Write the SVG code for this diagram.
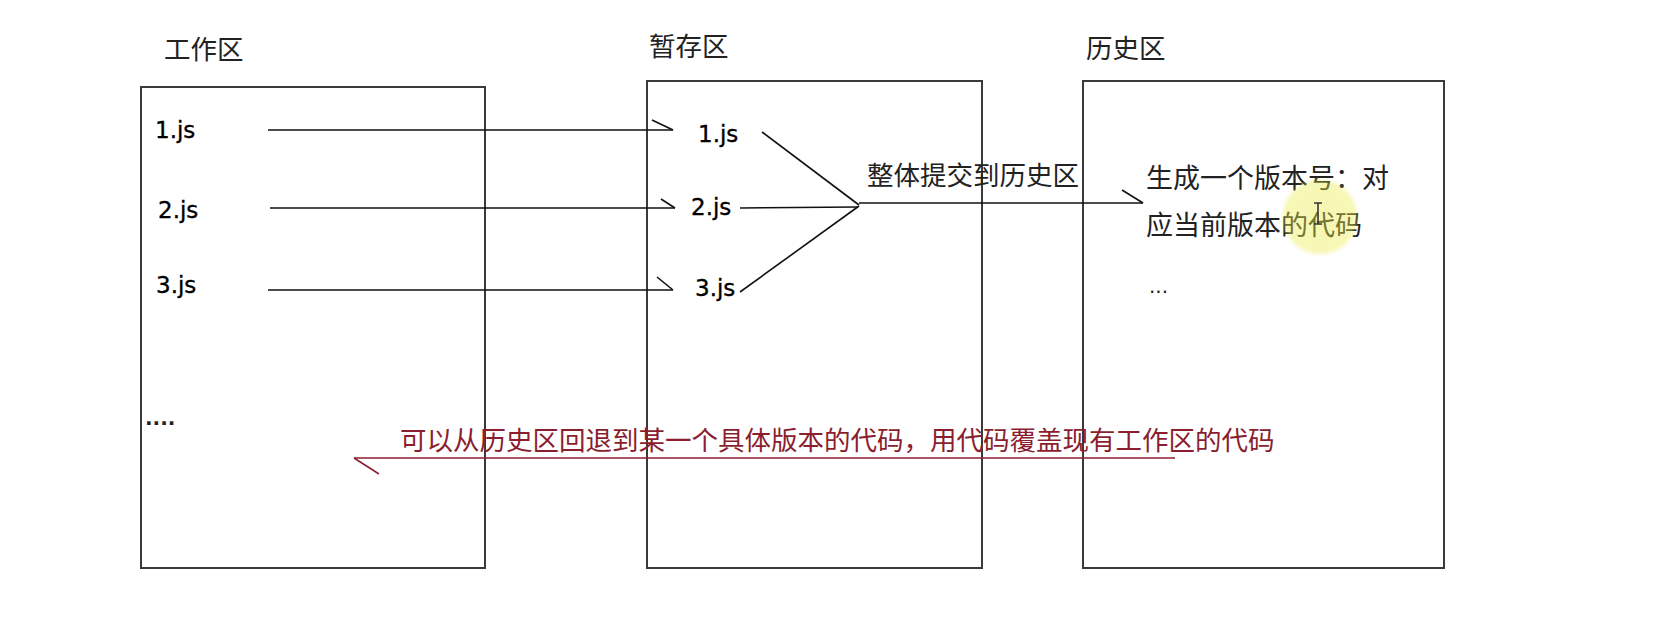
<svg xmlns="http://www.w3.org/2000/svg" width="1673" height="625" viewBox="0 0 1673 625">
<style>
.box{fill:#fff;stroke:#3a3a3a;stroke-width:2}
.cjk{font-family:"Noto Sans CJK SC","Noto Sans",sans-serif;font-size:26.5px;fill:#222}
.big{font-size:27px}
.js{font-family:"DejaVu Sans",sans-serif;font-size:23px;fill:#000;stroke:#000;stroke-width:0.35}
.dots{font-family:"DejaVu Sans",sans-serif;font-size:20px;fill:#222}
.ln{stroke:#111;stroke-width:1.6;fill:none}
.red{fill:#8a1e2e}
.rln{stroke:#8a1e2e;stroke-width:1.5;fill:none}
</style>
<defs>
<radialGradient id="hl" cx="0.5" cy="0.5" r="0.5">
<stop offset="0" stop-color="#eceb4a" stop-opacity="0.42"/>
<stop offset="0.85" stop-color="#eceb4a" stop-opacity="0.4"/>
<stop offset="1" stop-color="#eceb4a" stop-opacity="0"/>
</radialGradient>
</defs>
<rect width="1673" height="625" fill="#fff"/>

<g id="work">
<rect class="box" x="141" y="87" width="344" height="481"/>
<text class="cjk" x="164" y="59">工作区</text>
<text class="js" x="155" y="138">1.js</text>
<text class="js" x="158" y="218">2.js</text>
<text class="js" x="156" y="293">3.js</text>
<text class="dots" x="145" y="425" font-size="24" font-weight="bold">....</text>
</g>

<g id="stage">
<rect class="box" x="647" y="81" width="335" height="487"/>
<text class="cjk" x="649" y="56">暂存区</text>
<text class="js" x="698" y="142">1.js</text>
<text class="js" x="691" y="215">2.js</text>
<text class="js" x="695" y="296">3.js</text>
</g>

<g id="history">
<rect class="box" x="1083" y="81" width="361" height="487"/>
<text class="cjk" x="1086" y="58">历史区</text>
<text class="cjk big" x="1146" y="188">生成一个版本号：对</text>
<text class="cjk big" x="1146" y="235">应当前版本的代码</text>
<text class="dots" x="1149" y="293">...</text>
</g>

<g id="connectors">
<line class="ln" x1="268" y1="130" x2="673" y2="130"/>
<line class="ln" x1="652" y1="120" x2="673" y2="130"/>
<line class="ln" x1="270" y1="208" x2="675" y2="208"/>
<line class="ln" x1="661" y1="199" x2="675" y2="208"/>
<line class="ln" x1="268" y1="290" x2="673" y2="290"/>
<line class="ln" x1="657" y1="277" x2="673" y2="290"/>
<line class="ln" x1="762" y1="132" x2="859" y2="205"/>
<line class="ln" x1="740" y1="208" x2="858" y2="207"/>
<line class="ln" x1="740" y1="292" x2="859" y2="206"/>
<line class="ln" x1="859" y1="203" x2="1143" y2="203"/>
<line class="ln" x1="1122" y1="190" x2="1143" y2="203"/>
<text class="cjk" x="867" y="185">整体提交到历史区</text>
<line class="rln" x1="354" y1="458" x2="1175" y2="458"/>
<line class="rln" x1="354" y1="458" x2="379" y2="474"/>
<text class="cjk red" x="400" y="450">可以从历史区回退到某一个具体版本的代码，用代码覆盖现有工作区的代码</text>
</g>

<g id="cursor">
<circle cx="1320" cy="217" r="40" fill="url(#hl)"/>
<path d="M1314 203h8M1318 203v21M1314 224h8" stroke="#333" stroke-width="1.6" fill="none"/>
</g>
</svg>
